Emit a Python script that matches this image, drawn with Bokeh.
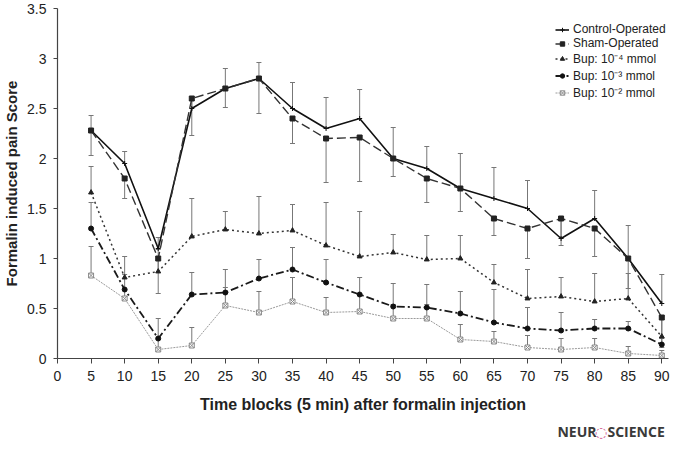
from bokeh.plotting import figure
from bokeh.layouts import column
from bokeh.models import (ColumnDataSource, Whisker, TeeHead, Legend, LegendItem,
                          FixedTicker, Range1d)
from bokeh.core.properties import value
from bokeh.embed import file_html
from bokeh.resources import INLINE

# ---------------- data ----------------
time_blocks = [5, 10, 15, 20, 25, 30, 35, 40, 45, 50, 55, 60, 65, 70, 75, 80, 85, 90]
x_ticks = [0, 5, 10, 15, 20, 25, 30, 35, 40, 45, 50, 55, 60, 65, 70, 75, 80, 85, 90]
y_ticks = [0, 0.5, 1, 1.5, 2, 2.5, 3, 3.5]
y_tick_labels = ["0", "0.5", "1", "1.5", "2", "2.5", "3", "3.5"]

series_names = ["Control-Operated", "Sham-Operated", "Bup: 10\u207b\u2074 mmol",
                "Bup: 10\u207b\u00b3 mmol", "Bup: 10\u207b\u00b2 mmol"]

control = [2.28, 1.95, 1.10, 2.50, 2.70, 2.80, 2.50, 2.30, 2.40, 2.00, 1.90, 1.70, 1.60, 1.50, 1.20, 1.40, 1.00, 0.55]
control_err = [0.15, 0.12, 0.11, 0.08, 0.20, 0.16, 0.26, 0.31, 0.29, 0.31, 0.22, 0.35, 0.31, 0.28, 0.20, 0.28, 0.33, 0.29]

sham = [2.28, 1.80, 1.00, 2.60, 2.70, 2.80, 2.40, 2.20, 2.21, 2.00, 1.80, 1.70, 1.40, 1.30, 1.40, 1.30, 1.00, 0.41]
sham_err = [0.25, 0.20, 0.35, 0.37, 0.19, 0.35, 0.25, 0.44, 0.44, 0.18, 0.24, 0.23, 0.17, 0.30, 0.27, 0.28, 0.30, 0.30]

bup4 = [1.66, 0.81, 0.87, 1.22, 1.29, 1.25, 1.28, 1.13, 1.02, 1.06, 0.99, 1.00, 0.76, 0.60, 0.62, 0.57, 0.60, 0.22]
bup4_err = [0.26, 0.21, 0.22, 0.38, 0.18, 0.37, 0.26, 0.43, 0.45, 0.18, 0.24, 0.23, 0.18, 0.29, 0.19, 0.28, 0.25, 0.20]

bup3 = [1.30, 0.69, 0.20, 0.64, 0.66, 0.80, 0.89, 0.76, 0.64, 0.52, 0.51, 0.45, 0.36, 0.30, 0.28, 0.30, 0.30, 0.14]
bup3_err = [0.26, 0.15, 0.20, 0.22, 0.23, 0.19, 0.22, 0.23, 0.17, 0.23, 0.23, 0.22, 0.33, 0.21, 0.18, 0.09, 0.07, 0.06]

bup2 = [0.83, 0.60, 0.09, 0.13, 0.53, 0.46, 0.57, 0.46, 0.47, 0.40, 0.40, 0.19, 0.17, 0.11, 0.09, 0.11, 0.05, 0.03]
bup2_err = [0.29, 0.08, 0.10, 0.18, 0.18, 0.21, 0.24, 0.15, 0.18, 0.14, 0.14, 0.15, 0.10, 0.12, 0.11, 0.09, 0.07, 0.05]

logo_parts = ["NEUR", "\u25cc", "SCIENCE"]

# ---------------- main figure ----------------
FONT = "Liberation Sans"

p = figure(width=671, height=420, output_backend="svg", toolbar_location=None,
           x_range=Range1d(0, 91), y_range=Range1d(0, 3.5),
           min_border_left=55, min_border_right=3, min_border_top=8, min_border_bottom=62)
p.outline_line_color = None
p.xgrid.visible = False
p.ygrid.visible = False
p.background_fill_color = "white"

for ax in (p.xaxis[0], p.yaxis[0]):
    ax.axis_line_color = "#444444"
    ax.axis_line_width = 1.2
    ax.major_tick_line_color = "#444444"
    ax.major_tick_in = 0
    ax.minor_tick_line_color = None
    ax.major_label_text_font = FONT
    ax.major_label_text_font_size = "14px"
    ax.major_label_text_color = "#222222"
    ax.axis_label_text_font = FONT
    ax.axis_label_text_font_style = "bold"
    ax.axis_label_text_color = "#222222"

p.xaxis.ticker = FixedTicker(ticks=x_ticks)
p.xaxis.major_tick_out = 5
p.xaxis.major_label_standoff = 7
p.xaxis.axis_label = "Time blocks (5 min) after formalin injection"
p.xaxis.axis_label_text_font_size = "16px"
p.xaxis.axis_label_standoff = 12

p.yaxis.ticker = FixedTicker(ticks=y_ticks)
p.yaxis.major_label_overrides = {t: lab for t, lab in zip(y_ticks, y_tick_labels)}
p.yaxis.major_tick_out = 4
p.yaxis.major_label_standoff = 7
p.yaxis.axis_label = "Formalin induced pain Score"
p.yaxis.axis_label_text_font_size = "15px"
p.yaxis.axis_label_standoff = 4

styles = [
    # values, errors, direction, line style, marker
    (control, control_err, "up", dict(line_color="#111111", line_width=1.6),
     dict(marker="cross", size=5, line_color="#111111", fill_color="#111111")),
    (sham, sham_err, "down", dict(line_color="#333333", line_width=1.4, line_dash="9 4"),
     dict(marker="square", size=5, line_color="#222222", fill_color="#222222")),
    (bup4, bup4_err, "up", dict(line_color="#333333", line_width=1.5, line_dash="2 3"),
     dict(marker="triangle", size=5, line_color="#222222", fill_color="#222222")),
    (bup3, bup3_err, "up", dict(line_color="#1a1a1a", line_width=1.8, line_dash="8 3 2 3"),
     dict(marker="circle", size=5, line_color="#111111", fill_color="#111111")),
    (bup2, bup2_err, "up", dict(line_color="#9a9a9a", line_width=1.0, line_dash="2 1"),
     dict(marker="square_x", size=5, line_color="#8a8a8a", fill_color="white")),
]

items = []
for name, (vals, errs, direction, lstyle, mstyle) in zip(series_names, styles):
    if direction == "up":
        upper = [v + e for v, e in zip(vals, errs)]
        lower = list(vals)
    else:
        upper = list(vals)
        lower = [v - e for v, e in zip(vals, errs)]
    src = ColumnDataSource(dict(x=time_blocks, y=vals, upper=upper, lower=lower))
    head = TeeHead(size=5, line_color="#777777", line_width=1)
    w = Whisker(source=src, base="x", upper="upper", lower="lower",
                line_color="#777777", line_width=1,
                upper_head=head if direction == "up" else None,
                lower_head=head if direction == "down" else None)
    p.add_layout(w)
    r_line = p.line("x", "y", source=src, **lstyle)
    r_mark = p.scatter("x", "y", source=src, **mstyle)
    items.append(LegendItem(label=name, renderers=[r_line, r_mark]))

legend = Legend(items=items, location=(498, 257), border_line_color=None,
                background_fill_alpha=0, label_text_font=FONT,
                label_text_font_size="12px", label_text_color="#222222",
                label_text_line_height=1.0,
                glyph_width=14, glyph_height=11, label_height=11, spacing=-2,
                padding=2, margin=0, label_standoff=4)
p.add_layout(legend)

# ---------------- journal logo strip ----------------
logo = figure(width=671, height=20, output_backend="svg", toolbar_location=None,
              x_range=Range1d(0, 671), y_range=Range1d(0, 20),
              min_border=0, outline_line_color=None)
logo.axis.visible = False
logo.grid.visible = False
logo.text(x=[549], y=[9], text=[logo_parts[0]], text_font=value("Open Sans"),
          text_font_size="14px", text_font_style="bold", text_color="#3a3a3a",
          text_baseline="middle", text_align="left")
logo.text(x=[597], y=[9], text=[logo_parts[1]], text_font=value("DejaVu Sans"),
          text_font_size="14px", text_font_style="bold", text_color="#d0508a",
          text_baseline="middle", text_align="center")
logo.text(x=[604], y=[9], text=[logo_parts[2]], text_font=value("Open Sans"),
          text_font_size="14px", text_font_style="bold", text_color="#3a3a3a",
          text_baseline="middle", text_align="left")

layout = column(p, logo, spacing=0)
open("out.html", "w").write(file_html(layout, INLINE))
